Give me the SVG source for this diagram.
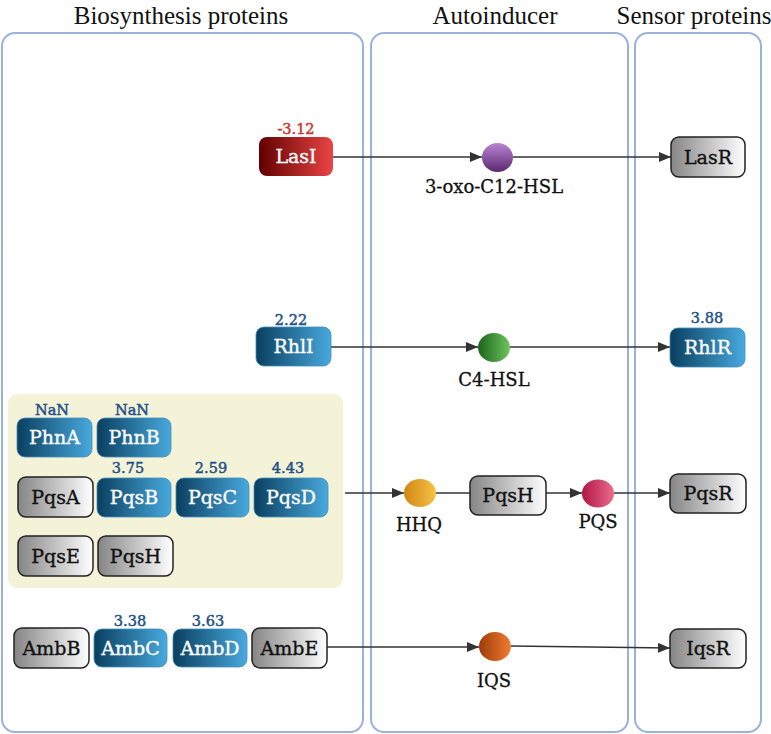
<svg xmlns="http://www.w3.org/2000/svg" width="771" height="734" viewBox="0 0 771 734">
<defs>
<linearGradient id="gBlue" x1="0" y1="0" x2="1" y2="0"><stop offset="0" stop-color="#0a3f60"/><stop offset="1" stop-color="#48a9dd"/></linearGradient>
<linearGradient id="gGray" x1="0" y1="0" x2="1" y2="0"><stop offset="0" stop-color="#858585"/><stop offset="1" stop-color="#ffffff"/></linearGradient>
<linearGradient id="gRed" x1="0" y1="0" x2="1" y2="0"><stop offset="0" stop-color="#620000"/><stop offset="1" stop-color="#ea4444"/></linearGradient>
<linearGradient id="gPurple" x1="0" y1="0" x2="0" y2="1"><stop offset="0" stop-color="#b885d4"/><stop offset="1" stop-color="#5c2870"/></linearGradient>
<linearGradient id="gGreen" x1="0" y1="0" x2="1" y2="0"><stop offset="0" stop-color="#1a641a"/><stop offset="1" stop-color="#70c45e"/></linearGradient>
<linearGradient id="gYellow" x1="0" y1="0" x2="1" y2="0"><stop offset="0" stop-color="#d28612"/><stop offset="1" stop-color="#f4c445"/></linearGradient>
<linearGradient id="gPink" x1="0" y1="0" x2="1" y2="0"><stop offset="0" stop-color="#b01646"/><stop offset="1" stop-color="#ea6c8c"/></linearGradient>
<linearGradient id="gOrange" x1="0" y1="0" x2="1" y2="0"><stop offset="0" stop-color="#9c3c08"/><stop offset="1" stop-color="#f27c32"/></linearGradient>
<marker id="arr" markerUnits="userSpaceOnUse" markerWidth="12" markerHeight="10" refX="12" refY="5" orient="auto"><path d="M0,0 L12,5 L0,10 Z" fill="#333"/></marker>
<style>
.panel{fill:none;stroke:#9bb1dd;stroke-width:2}
.title{font-family:"Liberation Serif",serif;font-size:25px;fill:#111;text-anchor:middle}
.blue rect{fill:url(#gBlue);stroke:#3f8fbf;stroke-width:0.8}
.gray rect{fill:url(#gGray);stroke:#222;stroke-width:1.5}
.red rect{fill:url(#gRed);stroke:none}
.lbl{font-family:"DejaVu Serif",serif;font-size:19px;text-anchor:middle;stroke-width:0.35}
.blue text.lbl,.red text.lbl{fill:#fff;stroke:#fff}
.gray text.lbl{fill:#111;stroke:#111}
.val{font-family:"DejaVu Serif",serif;font-size:14.5px;text-anchor:middle;fill:#1f5189;stroke:#1f5189;stroke-width:0.5}
.valr{fill:#cc3530;stroke:#cc3530}
.clbl{font-family:"DejaVu Serif",serif;font-size:18px;text-anchor:middle;fill:#111;stroke:#111;stroke-width:0.3}
.conn path{fill:none;stroke:#333;stroke-width:1.6}
</style>
</defs>
<rect width="771" height="734" fill="#fff"/>
<g id="panels">
<rect class="panel" x="2" y="33" width="361" height="699" rx="13"/>
<rect class="panel" x="371" y="33" width="257" height="699" rx="13"/>
<rect class="panel" x="635" y="33" width="126" height="699" rx="13"/>
<text class="title" x="181" y="24">Biosynthesis proteins</text>
<text class="title" x="495" y="24">Autoinducer</text>
<text class="title" x="694" y="24">Sensor proteins</text>
</g>
<rect id="pqs-group" x="8" y="394" width="335" height="194" rx="9" fill="#f5f3d7"/>
<g class="conn" id="connectors">
<path d="M333,157 L482,157" marker-end="url(#arr)"/>
<path d="M513,157 L671,157" marker-end="url(#arr)"/>
<path d="M331,347 L478,347" marker-end="url(#arr)"/>
<path d="M510,347 L670,347" marker-end="url(#arr)"/>
<path d="M345,493 L404,493" marker-end="url(#arr)"/>
<path d="M436,493 L470,493"/>
<path d="M546,493 L582,493" marker-end="url(#arr)"/>
<path d="M614,493 L670,493" marker-end="url(#arr)"/>
<path d="M327,647 L479,647" marker-end="url(#arr)"/>
<path d="M511,646 L670,648" marker-end="url(#arr)"/>
</g>
<g id="LasI" class="red"><rect x="259" y="137" width="74" height="39" rx="8"/><text class="lbl" x="296" y="163">LasI</text><text class="val valr" x="296" y="134">-3.12</text></g>
<g id="LasR" class="gray"><rect x="671" y="137" width="74" height="40" rx="8"/><text class="lbl" x="708" y="164">LasR</text></g>
<g id="RhlI" class="blue"><rect x="256" y="327" width="75" height="39" rx="8"/><text class="lbl" x="293.5" y="353">RhlI</text><text class="val" x="291" y="325">2.22</text></g>
<g id="RhlR" class="blue"><rect x="670" y="328" width="75" height="39" rx="8"/><text class="lbl" x="707.5" y="354">RhlR</text><text class="val" x="707" y="323">3.88</text></g>
<g id="PhnA" class="blue"><rect x="17" y="418" width="75" height="39" rx="8"/><text class="lbl" x="54.5" y="444">PhnA</text><text class="val" x="52" y="415">NaN</text></g>
<g id="PhnB" class="blue"><rect x="97" y="418" width="74" height="39" rx="8"/><text class="lbl" x="134" y="444">PhnB</text><text class="val" x="132" y="415">NaN</text></g>
<g id="PqsA" class="gray"><rect x="18" y="477" width="75" height="40" rx="8"/><text class="lbl" x="55.5" y="504">PqsA</text></g>
<g id="PqsB" class="blue"><rect x="97" y="478" width="74" height="39" rx="8"/><text class="lbl" x="134" y="504">PqsB</text><text class="val" x="128" y="473">3.75</text></g>
<g id="PqsC" class="blue"><rect x="176" y="478" width="73" height="39" rx="8"/><text class="lbl" x="212.5" y="504">PqsC</text><text class="val" x="211" y="473">2.59</text></g>
<g id="PqsD" class="blue"><rect x="254" y="478" width="74" height="39" rx="8"/><text class="lbl" x="291" y="504">PqsD</text><text class="val" x="288" y="473">4.43</text></g>
<g id="PqsE" class="gray"><rect x="18" y="536" width="75" height="40" rx="8"/><text class="lbl" x="55.5" y="563">PqsE</text></g>
<g id="PqsH-bio" class="gray"><rect x="98" y="536" width="75" height="40" rx="8"/><text class="lbl" x="135.5" y="563">PqsH</text></g>
<g id="PqsH" class="gray"><rect x="470" y="476" width="76" height="39" rx="8"/><text class="lbl" x="508" y="502">PqsH</text></g>
<g id="PqsR" class="gray"><rect x="670" y="474" width="76" height="39" rx="8"/><text class="lbl" x="708" y="500">PqsR</text></g>
<g id="AmbB" class="gray"><rect x="14" y="628" width="75" height="40" rx="8"/><text class="lbl" x="51.5" y="655">AmbB</text></g>
<g id="AmbC" class="blue"><rect x="94" y="629" width="73" height="38" rx="8"/><text class="lbl" x="130.5" y="655">AmbC</text><text class="val" x="130" y="626">3.38</text></g>
<g id="AmbD" class="blue"><rect x="173" y="629" width="74" height="38" rx="8"/><text class="lbl" x="210" y="655">AmbD</text><text class="val" x="208" y="626">3.63</text></g>
<g id="AmbE" class="gray"><rect x="252" y="628" width="75" height="40" rx="8"/><text class="lbl" x="289.5" y="655">AmbE</text></g>
<g id="IqsR" class="gray"><rect x="670" y="629" width="76" height="39" rx="8"/><text class="lbl" x="708" y="655">IqsR</text></g>
<g id="oxoC12HSL"><ellipse cx="497.5" cy="157.5" rx="15.5" ry="14.5" fill="url(#gPurple)"/><text class="clbl" x="494" y="193">3-oxo-C12-HSL</text></g>
<g id="C4HSL"><ellipse cx="494" cy="347.5" rx="16" ry="14.5" fill="url(#gGreen)"/><text class="clbl" x="494" y="386">C4-HSL</text></g>
<g id="HHQ"><ellipse cx="420" cy="493" rx="16" ry="14" fill="url(#gYellow)"/><text class="clbl" x="419" y="531">HHQ</text></g>
<g id="PQS"><ellipse cx="598" cy="493.5" rx="16" ry="14" fill="url(#gPink)"/><text class="clbl" x="598" y="528">PQS</text></g>
<g id="IQS"><ellipse cx="495" cy="646.5" rx="16" ry="14.5" fill="url(#gOrange)"/><text class="clbl" x="494" y="687">IQS</text></g>
</svg>
